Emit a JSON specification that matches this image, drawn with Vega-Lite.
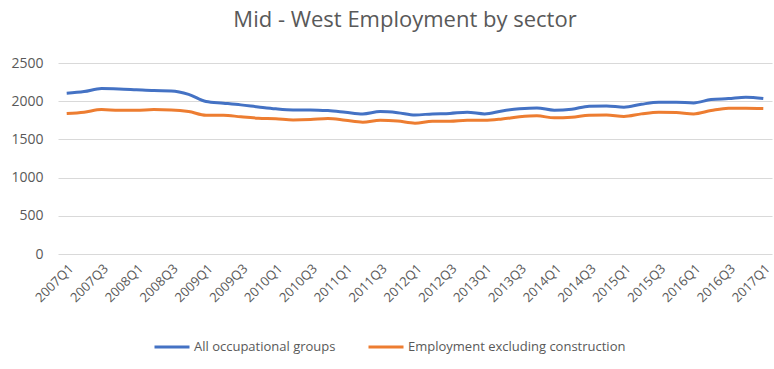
{
  "$schema": "https://vega.github.io/schema/vega-lite/v6.json",
  "width": 714,
  "height": 191,
  "autosize": {"type": "none"},
  "padding": {"left": 58, "top": 63, "right": 2, "bottom": 115},
  "background": "white",
  "config": {
    "view": {"stroke": null},
    "font": "Open Sans",
    "axis": {"labelFont": "Open Sans", "labelColor": "#595959", "titleColor": "#595959"}
  },
  "title": {
    "text": "Mid - West Employment by sector",
    "font": "Open Sans",
    "fontSize": 22,
    "fontWeight": "normal",
    "color": "#595959",
    "anchor": "middle",
    "dx": -10,
    "offset": 24
  },
  "data": {
    "values": [
      {"q": "2007Q1", "s": "All occupational groups", "v": 2105},
      {"q": "2007Q2", "s": "All occupational groups", "v": 2126},
      {"q": "2007Q3", "s": "All occupational groups", "v": 2165},
      {"q": "2007Q4", "s": "All occupational groups", "v": 2160},
      {"q": "2008Q1", "s": "All occupational groups", "v": 2150},
      {"q": "2008Q2", "s": "All occupational groups", "v": 2140},
      {"q": "2008Q3", "s": "All occupational groups", "v": 2135},
      {"q": "2008Q4", "s": "All occupational groups", "v": 2090},
      {"q": "2009Q1", "s": "All occupational groups", "v": 1995},
      {"q": "2009Q2", "s": "All occupational groups", "v": 1974},
      {"q": "2009Q3", "s": "All occupational groups", "v": 1952},
      {"q": "2009Q4", "s": "All occupational groups", "v": 1925},
      {"q": "2010Q1", "s": "All occupational groups", "v": 1900},
      {"q": "2010Q2", "s": "All occupational groups", "v": 1886},
      {"q": "2010Q3", "s": "All occupational groups", "v": 1886},
      {"q": "2010Q4", "s": "All occupational groups", "v": 1877},
      {"q": "2011Q1", "s": "All occupational groups", "v": 1856},
      {"q": "2011Q2", "s": "All occupational groups", "v": 1834},
      {"q": "2011Q3", "s": "All occupational groups", "v": 1864},
      {"q": "2011Q4", "s": "All occupational groups", "v": 1850},
      {"q": "2012Q1", "s": "All occupational groups", "v": 1820},
      {"q": "2012Q2", "s": "All occupational groups", "v": 1834},
      {"q": "2012Q3", "s": "All occupational groups", "v": 1840},
      {"q": "2012Q4", "s": "All occupational groups", "v": 1856},
      {"q": "2013Q1", "s": "All occupational groups", "v": 1834},
      {"q": "2013Q2", "s": "All occupational groups", "v": 1873},
      {"q": "2013Q3", "s": "All occupational groups", "v": 1900},
      {"q": "2013Q4", "s": "All occupational groups", "v": 1912},
      {"q": "2014Q1", "s": "All occupational groups", "v": 1882},
      {"q": "2014Q2", "s": "All occupational groups", "v": 1895},
      {"q": "2014Q3", "s": "All occupational groups", "v": 1934},
      {"q": "2014Q4", "s": "All occupational groups", "v": 1938},
      {"q": "2015Q1", "s": "All occupational groups", "v": 1921},
      {"q": "2015Q2", "s": "All occupational groups", "v": 1960},
      {"q": "2015Q3", "s": "All occupational groups", "v": 1987},
      {"q": "2015Q4", "s": "All occupational groups", "v": 1987},
      {"q": "2016Q1", "s": "All occupational groups", "v": 1978},
      {"q": "2016Q2", "s": "All occupational groups", "v": 2021},
      {"q": "2016Q3", "s": "All occupational groups", "v": 2034},
      {"q": "2016Q4", "s": "All occupational groups", "v": 2052},
      {"q": "2017Q1", "s": "All occupational groups", "v": 2034},
      {"q": "2007Q1", "s": "Employment excluding construction", "v": 1838},
      {"q": "2007Q2", "s": "Employment excluding construction", "v": 1856},
      {"q": "2007Q3", "s": "Employment excluding construction", "v": 1890},
      {"q": "2007Q4", "s": "Employment excluding construction", "v": 1880},
      {"q": "2008Q1", "s": "Employment excluding construction", "v": 1880},
      {"q": "2008Q2", "s": "Employment excluding construction", "v": 1890},
      {"q": "2008Q3", "s": "Employment excluding construction", "v": 1886},
      {"q": "2008Q4", "s": "Employment excluding construction", "v": 1865},
      {"q": "2009Q1", "s": "Employment excluding construction", "v": 1817},
      {"q": "2009Q2", "s": "Employment excluding construction", "v": 1817},
      {"q": "2009Q3", "s": "Employment excluding construction", "v": 1795},
      {"q": "2009Q4", "s": "Employment excluding construction", "v": 1777},
      {"q": "2010Q1", "s": "Employment excluding construction", "v": 1770},
      {"q": "2010Q2", "s": "Employment excluding construction", "v": 1755},
      {"q": "2010Q3", "s": "Employment excluding construction", "v": 1760},
      {"q": "2010Q4", "s": "Employment excluding construction", "v": 1773},
      {"q": "2011Q1", "s": "Employment excluding construction", "v": 1750},
      {"q": "2011Q2", "s": "Employment excluding construction", "v": 1725},
      {"q": "2011Q3", "s": "Employment excluding construction", "v": 1750},
      {"q": "2011Q4", "s": "Employment excluding construction", "v": 1740},
      {"q": "2012Q1", "s": "Employment excluding construction", "v": 1712},
      {"q": "2012Q2", "s": "Employment excluding construction", "v": 1738},
      {"q": "2012Q3", "s": "Employment excluding construction", "v": 1738},
      {"q": "2012Q4", "s": "Employment excluding construction", "v": 1751},
      {"q": "2013Q1", "s": "Employment excluding construction", "v": 1751},
      {"q": "2013Q2", "s": "Employment excluding construction", "v": 1768},
      {"q": "2013Q3", "s": "Employment excluding construction", "v": 1795},
      {"q": "2013Q4", "s": "Employment excluding construction", "v": 1808},
      {"q": "2014Q1", "s": "Employment excluding construction", "v": 1782},
      {"q": "2014Q2", "s": "Employment excluding construction", "v": 1790},
      {"q": "2014Q3", "s": "Employment excluding construction", "v": 1817},
      {"q": "2014Q4", "s": "Employment excluding construction", "v": 1821},
      {"q": "2015Q1", "s": "Employment excluding construction", "v": 1800},
      {"q": "2015Q2", "s": "Employment excluding construction", "v": 1834},
      {"q": "2015Q3", "s": "Employment excluding construction", "v": 1856},
      {"q": "2015Q4", "s": "Employment excluding construction", "v": 1852},
      {"q": "2016Q1", "s": "Employment excluding construction", "v": 1834},
      {"q": "2016Q2", "s": "Employment excluding construction", "v": 1877},
      {"q": "2016Q3", "s": "Employment excluding construction", "v": 1908},
      {"q": "2016Q4", "s": "Employment excluding construction", "v": 1908},
      {"q": "2017Q1", "s": "Employment excluding construction", "v": 1904}
    ]
  },
  "mark": {"type": "line", "strokeWidth": 3, "interpolate": "monotone"},
  "encoding": {
    "x": {
      "field": "q",
      "type": "ordinal",
      "sort": null,
      "scale": {"type": "point", "padding": 0.5},
      "axis": {
        "title": null,
        "values": ["2007Q1","2007Q3","2008Q1","2008Q3","2009Q1","2009Q3","2010Q1","2010Q3","2011Q1","2011Q3","2012Q1","2012Q3","2013Q1","2013Q3","2014Q1","2014Q3","2015Q1","2015Q3","2016Q1","2016Q3","2017Q1"],
        "labelAngle": -45,
        "labelAlign": "right",
        "labelBaseline": "top",
        "labelFontSize": 13,
        "labelPadding": 8,
        "labelOverlap": false,
        "ticks": false,
        "domain": false,
        "grid": false
      }
    },
    "y": {
      "field": "v",
      "type": "quantitative",
      "scale": {"domain": [0, 2500]},
      "axis": {
        "title": null,
        "values": [0, 500, 1000, 1500, 2000, 2500],
        "format": "d",
        "labelFontSize": 14,
        "labelPadding": 15,
        "ticks": false,
        "domain": false,
        "gridColor": "#D9D9D9",
        "gridWidth": 1
      }
    },
    "color": {
      "field": "s",
      "type": "nominal",
      "sort": null,
      "scale": {
        "domain": ["All occupational groups", "Employment excluding construction"],
        "range": ["#4472C4", "#ED7D31"]
      },
      "legend": {
        "title": null,
        "orient": "none",
        "legendX": 95,
        "legendY": 265,
        "direction": "horizontal",
        "symbolType": "stroke",
        "symbolSize": 1225,
        "symbolStrokeWidth": 3,
        "labelFont": "Open Sans",
        "labelFontSize": 13,
        "labelColor": "#595959",
        "labelOffset": 3,
        "columnPadding": 26,
        "labelLimit": 400
      }
    }
  }
}
